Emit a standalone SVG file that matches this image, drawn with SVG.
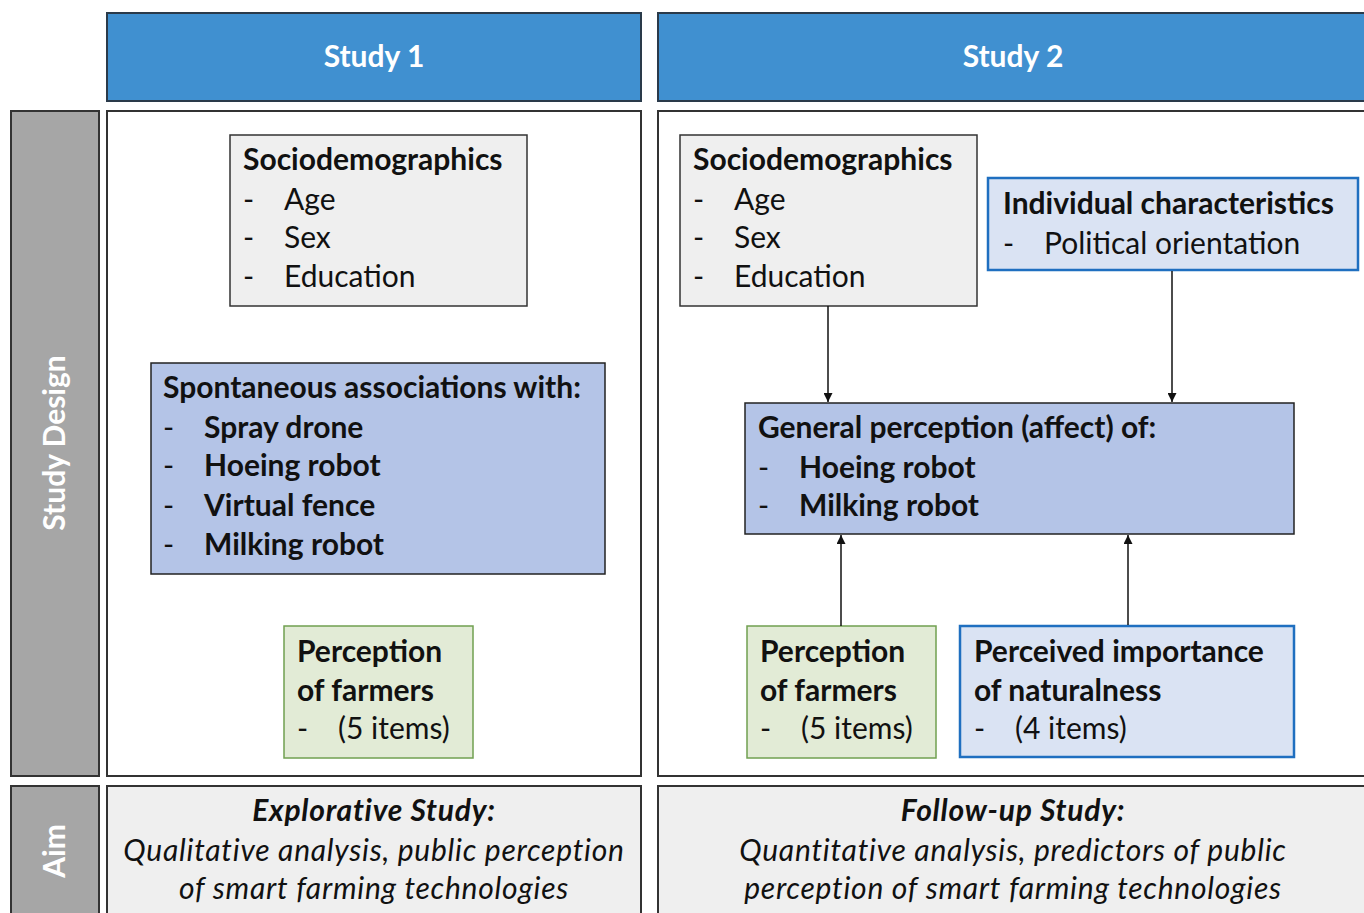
<svg xmlns="http://www.w3.org/2000/svg" width="1364" height="913" viewBox="0 0 1364 913">
<defs>
<marker id="ah" viewBox="0 0 10 10" refX="10" refY="5" markerWidth="9" markerHeight="9" markerUnits="userSpaceOnUse" orient="auto">
<path d="M0,0 L10,5 L0,10 z" fill="#111"/>
</marker>
<style>
text{font-family:Lato,"Open Sans","Liberation Sans",sans-serif;font-size:30px;fill:#111}
.b{font-weight:bold}
.w{fill:#fff;font-weight:bold}
.it{font-style:italic;letter-spacing:0.75px}
.hdr{fill:#4090d0;stroke:#2a3a4a;stroke-width:2}
.side{fill:#a6a6a6;stroke:#333;stroke-width:2}
.panel{fill:#fff;stroke:#333;stroke-width:2}
.aim{fill:#efefef;stroke:#333;stroke-width:2}
.grey{fill:#efefef;stroke:#333;stroke-width:1.5}
.peri{fill:#b4c4e7;stroke:#222;stroke-width:1.5}
.green{fill:#e2ebd6;stroke:#70a050;stroke-width:1.5}
.lblue{fill:#dae3f3;stroke:#1f6fc0;stroke-width:2.5}
.conn{stroke:#111;stroke-width:1.5;fill:none}
</style>
</defs>
<rect width="1364" height="913" fill="#fff"/>
<g id="header-study1"><rect class="hdr" x="107" y="13" width="534" height="88"/><text class="w" x="374" y="67" text-anchor="middle">Study 1</text></g>
<g id="header-study2"><rect class="hdr" x="658" y="13" width="720" height="88"/><text class="w" x="1013" y="67" text-anchor="middle">Study 2</text></g>
<g id="side-design"><rect class="side" x="11" y="111" width="88" height="665"/><text class="w" transform="translate(65,443) rotate(-90)" text-anchor="middle">Study Design</text></g>
<g id="side-aim"><rect class="side" x="11" y="786" width="88" height="140"/><text class="w" transform="translate(65,851) rotate(-90)" text-anchor="middle">Aim</text></g>
<g id="panel-study1"><rect class="panel" x="107" y="111" width="534" height="665"/></g>
<g id="panel-study2"><rect class="panel" x="658" y="111" width="720" height="665"/></g>
<g id="aim-study1"><rect class="aim" x="107" y="786" width="534" height="140"/>
<text class="b it" x="374" y="821" text-anchor="middle">Explorative Study:</text>
<text class="it" x="374" y="861" text-anchor="middle">Qualitative analysis, public perception</text>
<text class="it" x="374" y="899" text-anchor="middle">of smart farming technologies</text></g>
<g id="aim-study2"><rect class="aim" x="658" y="786" width="720" height="140"/>
<text class="b it" x="1013" y="821" text-anchor="middle">Follow-up Study:</text>
<text class="it" x="1013" y="861" text-anchor="middle">Quantitative analysis, predictors of public</text>
<text class="it" x="1013" y="899" text-anchor="middle">perception of smart farming technologies</text></g>
<g id="s1-socio"><rect class="grey" x="230" y="135" width="297" height="171"/>
<text class="b" x="243" y="170">Sociodemographics</text>
<text x="243" y="210">-</text><text x="284" y="210">Age</text>
<text x="243" y="248">-</text><text x="284" y="248">Sex</text>
<text x="243" y="287">-</text><text x="284" y="287">Education</text></g>
<g id="s1-spont"><rect class="peri" x="151" y="363" width="454" height="211"/>
<text class="b" x="163" y="398">Spontaneous associations with:</text>
<text x="163" y="438">-</text><text class="b" x="204" y="438">Spray drone</text>
<text x="163" y="476">-</text><text class="b" x="204" y="476">Hoeing robot</text>
<text x="163" y="516">-</text><text class="b" x="204" y="516">Virtual fence</text>
<text x="163" y="555">-</text><text class="b" x="204" y="555">Milking robot</text></g>
<g id="s1-farmers"><rect class="green" x="284" y="626" width="189" height="132"/>
<text class="b" x="297" y="662">Perception</text>
<text class="b" x="297" y="701">of farmers</text>
<text x="297" y="739">-</text><text x="338" y="739">(5 items)</text></g>
<g id="s2-socio"><rect class="grey" x="680" y="135" width="297" height="171"/>
<text class="b" x="693" y="170">Sociodemographics</text>
<text x="693" y="210">-</text><text x="734" y="210">Age</text>
<text x="693" y="248">-</text><text x="734" y="248">Sex</text>
<text x="693" y="287">-</text><text x="734" y="287">Education</text></g>
<g id="s2-indiv"><rect class="lblue" x="988" y="178" width="370" height="92"/>
<text class="b" x="1003" y="214">Individual characteristics</text>
<text x="1003" y="254">-</text><text x="1044" y="254">Political orientation</text></g>
<g id="s2-general"><rect class="peri" x="745" y="403" width="549" height="131"/>
<text class="b" x="758" y="438">General perception (affect) of:</text>
<text x="758" y="478">-</text><text class="b" x="799" y="478">Hoeing robot</text>
<text x="758" y="516">-</text><text class="b" x="799" y="516">Milking robot</text></g>
<g id="s2-farmers"><rect class="green" x="747" y="626" width="189" height="132"/>
<text class="b" x="760" y="662">Perception</text>
<text class="b" x="760" y="701">of farmers</text>
<text x="760" y="739">-</text><text x="801" y="739">(5 items)</text></g>
<g id="s2-natural"><rect class="lblue" x="960" y="626" width="334" height="131"/>
<text class="b" x="974" y="662">Perceived importance</text>
<text class="b" x="974" y="701">of naturalness</text>
<text x="974" y="739">-</text><text x="1015" y="739">(4 items)</text></g>
<g id="connectors">
<line class="conn" x1="828" y1="306" x2="828" y2="402" marker-end="url(#ah)"/>
<line class="conn" x1="1172" y1="271" x2="1172" y2="402" marker-end="url(#ah)"/>
<line class="conn" x1="841" y1="626" x2="841" y2="535" marker-end="url(#ah)"/>
<line class="conn" x1="1128" y1="625" x2="1128" y2="535" marker-end="url(#ah)"/>
</g>
</svg>
